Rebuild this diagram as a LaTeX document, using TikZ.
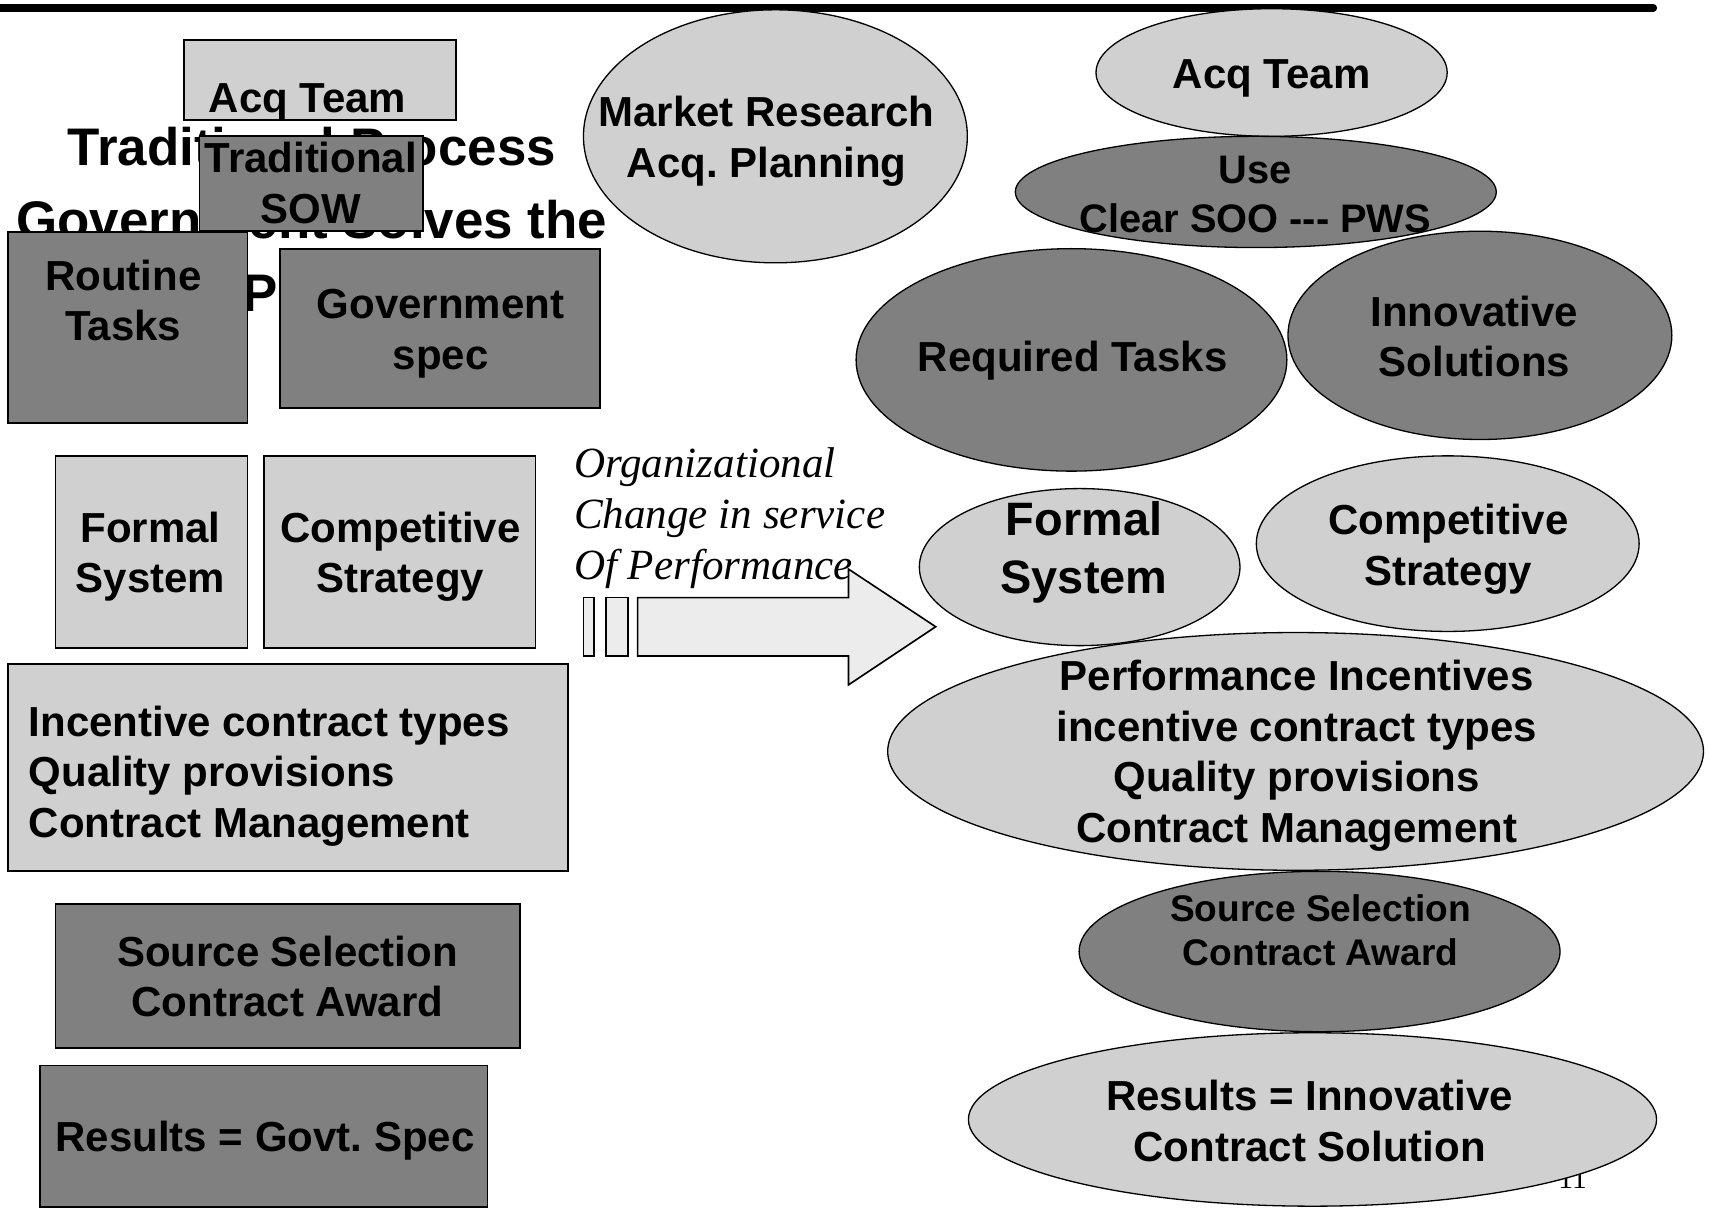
\documentclass[tikz,border=0pt]{standalone}
\usepackage{fontspec}
\setmainfont{Liberation Sans}
\newfontfamily\serifit{Liberation Serif}
\usetikzlibrary{fit,shapes.geometric}
\definecolor{lgray}{HTML}{D0D0D0}
\definecolor{dgray}{HTML}{808080}
\definecolor{agray}{HTML}{ECECEC}
\newcommand\mlc[1]{\begin{tabular}[t]{@{}c@{}}#1\end{tabular}}
\newcommand\mll[1]{\begin{tabular}[t]{@{}l@{}}#1\end{tabular}}
\frenchspacing
\begin{document}
\begin{tikzpicture}[x=0.5pt,y=-0.5pt,
  rbox/.style={draw, line width=0.8pt, inner sep=0pt},
  lightbox/.style={rbox, fill=lgray},
  darkbox/.style={rbox, fill=dgray},
  ell/.style={ellipse, draw, line width=0.6pt, inner sep=0pt},
  esz/.style 2 args={minimum width=#1*0.5pt, minimum height=#2*0.5pt},
  lightell/.style={ell, fill=lgray},
  darkell/.style={ell, fill=dgray},
  txt/.style={inner sep=0pt, anchor=base, font=\bfseries\fontsize{19.25}{23.25}\selectfont},
  titletxt/.style={inner sep=0pt, font=\bfseries\fontsize{24.25}{33.5}\selectfont},
  arrowpart/.style={draw, line width=0.75pt, fill=agray},
]
\useasboundingbox (0,0) rectangle (1568,1108);

% top rule
\draw[line width=3.5pt, line cap=round] (0,7.2) -- (1516,7.2);

% title (mostly hidden)
\node[titletxt, anchor=base] (title) at (286,152) {\mlc{Traditional Process\\Government Solves the}};
\node[titletxt, anchor=base west] (title3) at (222,286) {Problem};

% left column
\node[lightbox, fit={(169,37) (418,110)}] (acqL) {};
\node[txt] (acqLt) at (282,103) {Acq Team};

\node[darkbox, fit={(183,125) (388,212)}] (sow) {};
\node[txt] (sowt) at (285,158) {\mlc{Traditional\\SOW}};

\node[darkbox, fit={(7,213) (227,388)}] (routine) {};
\node[txt] (routinet) at (113,266) {\mlc{Routine\\Tasks}};

\node[darkbox, fit={(257,228) (550,374)}] (gspec) {};
\node[txt] (gspect) at (404,292) {\mlc{Government\\spec}};

\node[lightbox, fit={(51,418) (227,594)}] (formalL) {};
\node[txt] (formalLt) at (138,497) {\mlc{Formal\\System}};

\node[lightbox, fit={(242,418) (491,594)}] (compL) {};
\node[txt] (compLt) at (367,497) {\mlc{Competitive\\Strategy}};

\node[lightbox, fit={(7,609) (521,799)}] (incL) {};
\node[txt, anchor=base west] (incLt) at (26,675) {\mll{Incentive contract types\\Quality provisions\\Contract Management}};

\node[darkbox, fit={(51,829) (477,961)}] (srcL) {};
\node[txt] (srcLt) at (263.5,886) {\mlc{Source Selection\\Contract Award}};

\node[darkbox, fit={(37,977) (447,1107)}] (resL) {};
\node[txt] (resLt) at (243,1056) {Results = Govt. Spec};

% market research
\node[lightell, esz={352}{232}] (mkt) at (711,125) {};
\node[txt] (mktt) at (703,116) {\mlc{Market Research\\Acq. Planning}};

% arrow
\path[arrowpart] (535,548) rectangle (544.6,601.5);
\path[arrowpart] (555.4,548) rectangle (576,601.5);
\path[arrowpart] (584.7,548) -- (778,548) -- (778,521.8) -- (858,574.7) -- (778,628) -- (778,601.5) -- (584.7,601.5) -- cycle;
\node[inner sep=0pt, anchor=base west, font=\serifit\itshape\fontsize{19.75}{23.25}\selectfont] (orgt) at (526,438) {\mll{Organizational\\Change in service\\Of Performance}};

% right column
\node[lightell, esz={322}{117}] (acqR) at (1166,66.5) {};
\node[txt] (acqRt) at (1166,81) {Acq Team};

\node[darkell, esz={395}{204}] (req) at (982.5,330) {};
\node[txt] (reqt) at (983.5,341) {Required Tasks};

\node[darkell, esz={352}{191}] (innov) at (1357,307.5) {};
\node[txt] (innovt) at (1352,299) {\mlc{Innovative\\Solutions}};

\node[darkell, esz={441}{102}] (use) at (1151.5,176) {};
\node[txt, font=\bfseries\fontsize{18.25}{22.5}\selectfont] (uset) at (1151,168) {\mlc{Use\\Clear SOO -{}-{}- PWS}};

\node[lightell, esz={294}{144}] (formalR) at (990,520) {};
\node[txt, font=\bfseries\fontsize{21.5}{26.5}\selectfont] (formalRt) at (994,491) {\mlc{Formal\\System}};

\node[lightell, esz={351}{161}] (compR) at (1327.5,498.5) {};
\node[txt] (compRt) at (1328,490) {\mlc{Competitive\\Strategy}};

\node[lightell, esz={748}{218}] (perf) at (1188,689) {};
\node[txt] (perft) at (1189,633) {\mlc{Performance Incentives\\incentive contract types\\Quality provisions\\Contract Management}};

\node[darkell, esz={441}{147}] (srcR) at (1210,872.5) {};
\node[txt, font=\bfseries\fontsize{17}{20}\selectfont] (srcRt) at (1211,845) {\mlc{Source Selection\\Contract Award}};

\node[inner sep=0pt, anchor=base, font=\serifit\fontsize{13.5}{16}\selectfont] (pagenum) at (1442,1090) {11};

\node[lightell, esz={631}{159}] (resR) at (1203.5,1026.5) {};
\node[txt] (resRt) at (1201,1018.5) {\mlc{Results = Innovative\\Contract Solution}};

\end{tikzpicture}
\end{document}
